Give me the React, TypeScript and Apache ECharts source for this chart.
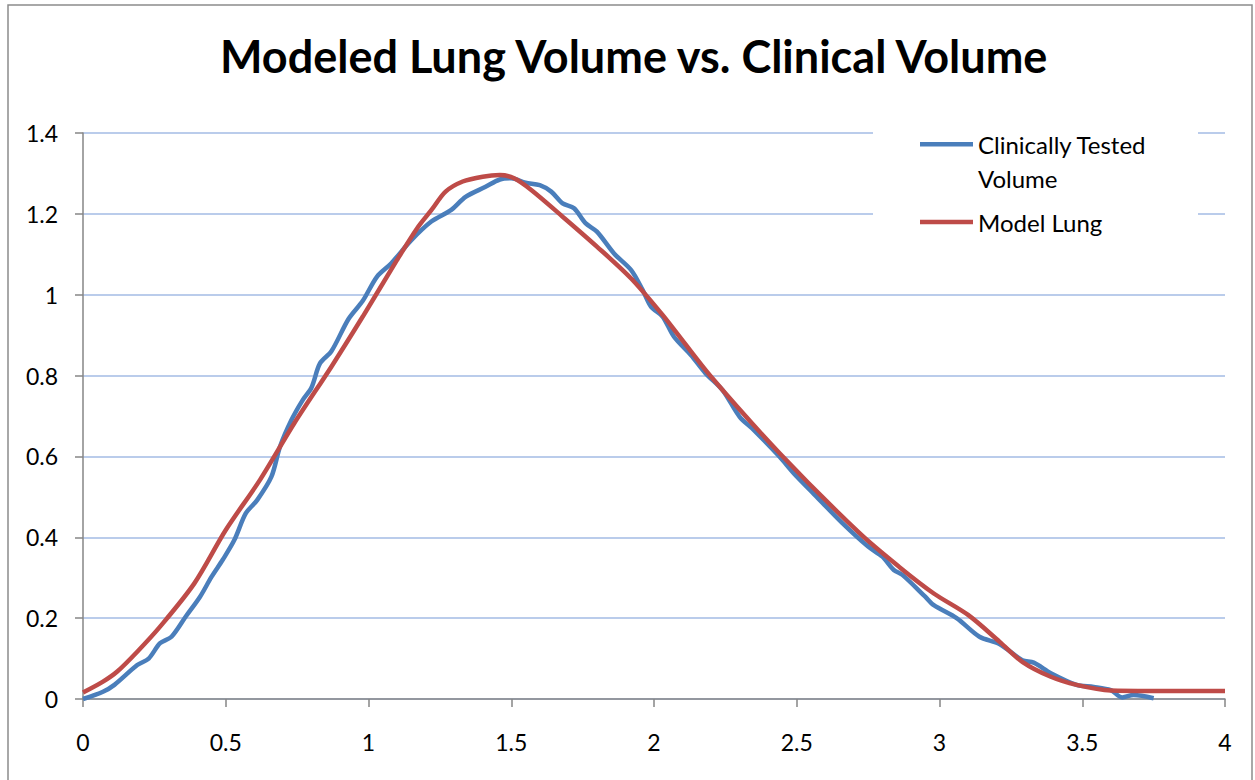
import React, { useEffect, useRef } from "react";
import * as echarts from "echarts";

const titleText = "Modeled Lung Volume vs. Clinical Volume";
const seriesNames = ["Clinically Tested Volume", "Model Lung"];
const seriesColors = ["#4a7ebb", "#be4b48"];

const clinicalX = [0, 0.07, 0.11, 0.19, 0.23, 0.27, 0.31, 0.36, 0.41, 0.45, 0.49, 0.53, 0.57, 0.61, 0.66, 0.69, 0.73, 0.77, 0.8, 0.83, 0.87, 0.93, 0.98, 1.03, 1.08, 1.15, 1.22, 1.29, 1.34, 1.41, 1.46, 1.5, 1.55, 1.6, 1.64, 1.68, 1.72, 1.76, 1.8, 1.86, 1.92, 1.96, 1.99, 2.03, 2.07, 2.13, 2.18, 2.24, 2.3, 2.35, 2.44, 2.49, 2.57, 2.66, 2.75, 2.8, 2.84, 2.87, 2.95, 2.98, 3.06, 3.14, 3.21, 3.29, 3.33, 3.39, 3.48, 3.54, 3.6, 3.64, 3.68, 3.75];
const clinicalY = [0, 0.018, 0.035, 0.084, 0.1, 0.138, 0.154, 0.204, 0.253, 0.302, 0.345, 0.393, 0.459, 0.492, 0.55, 0.624, 0.69, 0.74, 0.77, 0.83, 0.86, 0.94, 0.985, 1.045, 1.078, 1.135, 1.181, 1.21, 1.242, 1.267, 1.285, 1.288, 1.277, 1.271, 1.255, 1.226, 1.214, 1.177, 1.156, 1.102, 1.061, 1.012, 0.97, 0.946, 0.896, 0.85, 0.806, 0.764, 0.698, 0.665, 0.599, 0.558, 0.5, 0.435, 0.377, 0.352, 0.319, 0.307, 0.253, 0.232, 0.2, 0.154, 0.136, 0.096, 0.09, 0.064, 0.035, 0.03, 0.022, 0.004, 0.01, 0.002];

const modelX = [0, 0.07, 0.12, 0.19, 0.27, 0.39, 0.5, 0.62, 0.74, 0.87, 0.98, 1.1, 1.17, 1.22, 1.27, 1.33, 1.4, 1.46, 1.51, 1.57, 1.68, 1.8, 1.92, 2.03, 2.08, 2.2, 2.44, 2.72, 2.86, 2.98, 3.1, 3.21, 3.29, 3.39, 3.48, 3.6, 3.74, 4.0];
const modelY = [0.016, 0.043, 0.068, 0.117, 0.179, 0.286, 0.418, 0.542, 0.682, 0.822, 0.946, 1.086, 1.164, 1.209, 1.255, 1.28, 1.292, 1.296, 1.288, 1.259, 1.193, 1.119, 1.04, 0.95, 0.905, 0.797, 0.608, 0.41, 0.326, 0.261, 0.208, 0.142, 0.092, 0.055, 0.035, 0.021, 0.02, 0.02];

const xTicks = { min: 0, max: 4, interval: 0.5 };
const yTicks = { min: 0, max: 1.4, interval: 0.2 };

const FONT = "Lato";

// legend icons: a short bar, positioned within a 53x68 box (bounds set by invisible points)
const iconTop = "path://M0 0L0.01 0M0 15L53 15L53 19.5L0 19.5ZM0 68L0.01 68";
const iconMid = "path://M0 0L0.01 0M0 31.75L53 31.75L53 36.25L0 36.25ZM0 68L0.01 68";

export default function App() {
  const ref = useRef<HTMLDivElement>(null);
  useEffect(() => {
    if (!ref.current) return;
    const chart = echarts.init(ref.current, null, { renderer: "svg" });
    const clinical = clinicalX.map((x, i) => [x, clinicalY[i]]);
    const model = modelX.map((x, i) => [x, modelY[i]]);
    chart.setOption({
      animation: false,
      backgroundColor: "#ffffff",
      title: {
        text: titleText,
        left: 215,
        top: 28,
        padding: 5,
        textStyle: { fontFamily: FONT, fontWeight: "bold", fontSize: 45, color: "#000" },
      },
      graphic: [
        {
          type: "rect",
          shape: { x: 8, y: 5, width: 1244, height: 800 },
          style: { fill: "none", stroke: "#8c8c8c", lineWidth: 1.5 },
          silent: true,
          z: 0,
        },
        {
          type: "rect",
          shape: { x: 873, y: 115, width: 325, height: 140 },
          style: { fill: "#ffffff" },
          silent: true,
          z: 3,
        },
      ],
      legend: {
        orient: "vertical",
        left: 920,
        top: 127,
        padding: 0,
        itemWidth: 53,
        itemHeight: 68,
        itemGap: -7,
        z: 5,
        data: [
          { name: seriesNames[0], icon: iconTop },
          { name: seriesNames[1], icon: iconMid },
        ],
        formatter: (name: string) => (name === seriesNames[0] ? "Clinically Tested\nVolume" : name),
        textStyle: {
          fontFamily: FONT,
          fontSize: 24,
          color: "#000",
          lineHeight: 34,
        },
      },
      grid: { left: 83, right: 30, top: 133, bottom: 81 },
      xAxis: {
        type: "value",
        min: xTicks.min,
        max: xTicks.max,
        interval: xTicks.interval,
        axisLine: { show: true, lineStyle: { color: "#868686", width: 1.5 } },
        axisTick: { show: true, length: 8, lineStyle: { color: "#868686", width: 1.5 } },
        axisLabel: { fontFamily: FONT, fontSize: 23, color: "#000", margin: 31 },
        splitLine: { show: false },
      },
      yAxis: {
        type: "value",
        min: yTicks.min,
        max: yTicks.max,
        interval: yTicks.interval,
        axisLine: { show: true, lineStyle: { color: "#868686", width: 1.5 } },
        axisTick: { show: true, length: 8, lineStyle: { color: "#868686", width: 1.5 } },
        axisLabel: { fontFamily: FONT, fontSize: 23, color: "#000", margin: 25 },
        splitLine: { show: true, lineStyle: { color: "#a3bbe5", width: 1.5 } },
      },
      series: [
        {
          name: seriesNames[0],
          type: "line",
          data: clinical,
          smooth: 0.3,
          symbol: "none",
          lineStyle: { color: seriesColors[0], width: 4.5 },
          itemStyle: { color: seriesColors[0] },
          z: 6,
        },
        {
          name: seriesNames[1],
          type: "line",
          data: model,
          smooth: 0.3,
          symbol: "none",
          lineStyle: { color: seriesColors[1], width: 4.5 },
          itemStyle: { color: seriesColors[1] },
          z: 7,
        },
      ],
    });
    return () => chart.dispose();
  }, []);
  return (
    <div
      ref={ref}
      style={{ position: "absolute", left: 0, top: 0, width: 1255, height: 780 }}
    />
  );
}
